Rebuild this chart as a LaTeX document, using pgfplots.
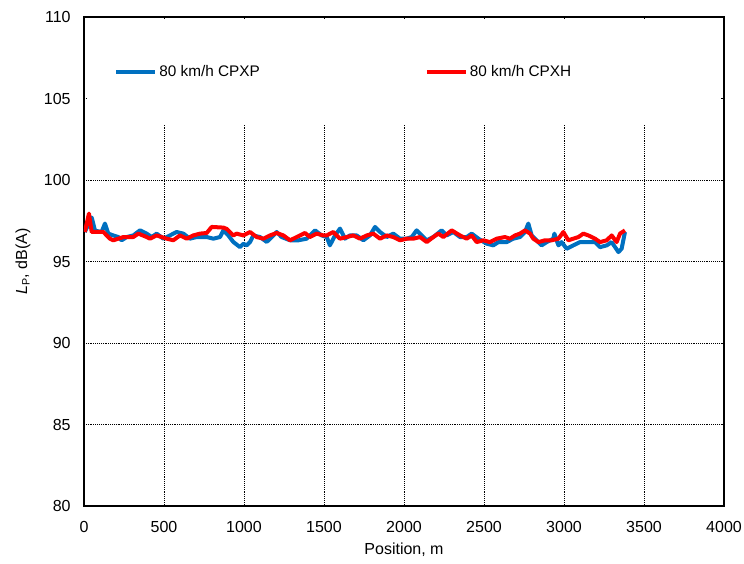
\documentclass[border=0pt]{standalone}
\usepackage{pgfplots}
\pgfplotsset{compat=1.18}
\usepackage{fontspec}
\setmainfont{Liberation Sans}
\definecolor{cpxp}{HTML}{0070C0}
\definecolor{cpxh}{HTML}{FF0000}
\begin{document}
\begin{tikzpicture}
\begin{axis}[
  scale only axis, width=480pt, height=366.75pt,
  xmin=0, xmax=4000, ymin=80, ymax=110,
  xtick={0,500,...,4000}, ytick={80,85,...,110},
  grid=major,
  major grid style={black, densely dotted, line width=0.6pt},
  major tick length=0pt,
  axis line style={line width=1.5pt},
  /pgf/number format/assume math mode=true,
  /pgf/number format/set thousands separator={},
  tick label style={font=\fontsize{12}{14}\selectfont},
  xticklabel style={anchor=base, yshift=-19.5pt},
  yticklabel style={anchor=east, xshift=-6.5pt},
  xlabel={Position, m},
  ylabel={\textit{L}\textsubscript{P}, dB(A)},
  label style={font=\fontsize{12}{14}\selectfont},
  xlabel style={at={(axis description cs:0.5,-0.0998)}, anchor=base},
  ylabel style={at={(axis description cs:-0.0953,0.5)}, anchor=center},
  legend columns=2,
  legend cell align=left,
  legend style={draw=none, fill=none, at={(axis description cs:0.0469,0.8881)}, anchor=west,
    inner sep=0pt, font=\fontsize{11.5}{13}\selectfont, nodes={inner sep=0pt},
    /tikz/every odd column/.style={column sep=1.5pt},
    /tikz/every even column/.style={column sep=123.75pt}},
  legend image code/.code={\draw[#1, line width=3pt] (0pt,0pt) -- (29.25pt,0pt);},
]
\fill[white] (rel axis cs:0.004,0.7792) rectangle (rel axis cs:0.996,0.996);
\coordinate (SW) at (rel axis cs:0,0);
\coordinate (NE) at (rel axis cs:1,1);
\addplot[cpxp, line width=3pt, line join=round] coordinates {
(5,96.81) (48,97.70) (69,96.89) (110,96.81) (131,97.33) (152,96.71) (183,96.60) (215,96.50)
(235,96.30) (267,96.50) (308,96.60) (350,96.91) (392,96.71) (423,96.50) (454,96.71) (496,96.40)
(537,96.60) (579,96.81) (621,96.71) (662,96.40) (704,96.50) (767,96.50) (808,96.40) (850,96.50)
(871,96.91) (902,96.60) (933,96.20) (975,95.88) (996,96.09) (1017,95.99) (1038,96.20) (1058,96.60)
(1100,96.50) (1142,96.20) (1173,96.50) (1204,96.81) (1235,96.50) (1288,96.30) (1340,96.30) (1392,96.40)
(1444,96.91) (1485,96.60) (1517,96.50) (1537,95.99) (1569,96.60) (1600,97.02) (1631,96.40) (1662,96.60)
(1704,96.60) (1746,96.30) (1787,96.60) (1819,97.12) (1850,96.81) (1892,96.50) (1933,96.71) (1975,96.40)
(2017,96.40) (2048,96.50) (2079,96.91) (2110,96.60) (2142,96.30) (2183,96.50) (2235,96.91) (2267,96.60)
(2308,96.81) (2350,96.50) (2392,96.50) (2423,96.71) (2465,96.40) (2517,96.09) (2558,95.99) (2590,96.19)
(2642,96.19) (2683,96.40) (2725,96.50) (2756,96.81) (2777,97.33) (2798,96.60) (2829,96.30) (2860,95.99)
(2892,96.19) (2933,96.40) (2940,96.71) (2965,95.99) (2985,96.19) (3017,95.78) (3058,95.99) (3100,96.19)
(3142,96.19) (3194,96.19) (3225,95.88) (3267,95.99) (3298,96.19) (3340,95.58) (3360,95.78) (3381,96.81)
};
\addlegendentry{80 km/h CPXP}
\addplot[cpxh, line width=3pt, line join=round] coordinates {
(5,96.81) (31,97.94) (48,96.81) (121,96.81) (162,96.40) (183,96.30) (246,96.50) (308,96.50)
(340,96.71) (392,96.50) (412,96.40) (454,96.60) (517,96.40) (558,96.30) (600,96.60) (642,96.40)
(683,96.60) (725,96.71) (767,96.75) (798,97.12) (871,97.08) (892,97.00) (933,96.60) (954,96.71)
(996,96.60) (1038,96.81) (1079,96.50) (1121,96.40) (1162,96.60) (1204,96.75) (1246,96.60) (1288,96.30)
(1329,96.50) (1381,96.75) (1412,96.50) (1454,96.71) (1496,96.60) (1517,96.60) (1558,96.81) (1600,96.40)
(1642,96.50) (1683,96.60) (1725,96.40) (1767,96.60) (1808,96.71) (1850,96.40) (1892,96.60) (1933,96.50)
(1975,96.30) (2017,96.40) (2058,96.40) (2100,96.50) (2142,96.19) (2183,96.50) (2215,96.71) (2246,96.50)
(2298,96.91) (2350,96.60) (2392,96.40) (2423,96.60) (2454,96.19) (2496,96.30) (2537,96.19) (2579,96.40)
(2631,96.50) (2662,96.40) (2694,96.60) (2725,96.71) (2756,96.91) (2788,96.71) (2808,96.40) (2840,96.19)
(2881,96.30) (2923,96.30) (2965,96.40) (2996,96.81) (3027,96.30) (3058,96.40) (3090,96.50) (3121,96.71)
(3152,96.60) (3194,96.40) (3225,96.19) (3267,96.30) (3298,96.60) (3329,96.19) (3350,96.71) (3381,96.91)
};
\addlegendentry{80 km/h CPXH}
\end{axis}
\pgfresetboundingbox
\path ([shift={(-63pt,-42.75pt)}]SW) rectangle ([shift={(15pt,12.75pt)}]NE);
\end{tikzpicture}
\end{document}
